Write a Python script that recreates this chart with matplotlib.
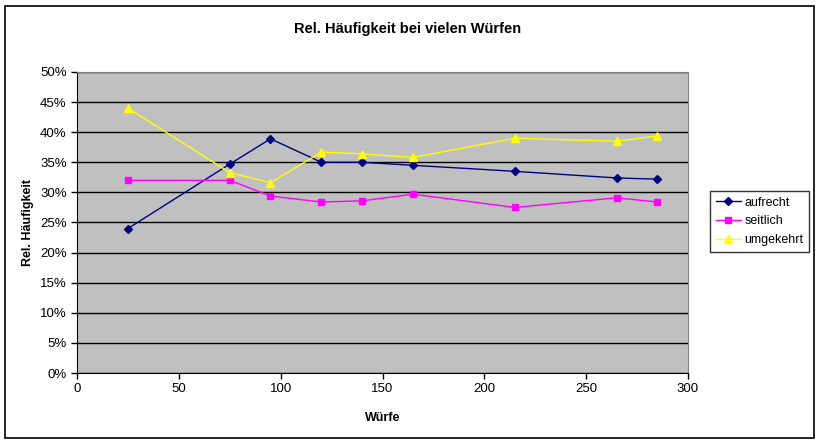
import matplotlib
matplotlib.use("Agg")
import matplotlib.pyplot as plt
from matplotlib.patches import Rectangle
from matplotlib.ticker import PercentFormatter

plt.rcParams['font.family'] = ['Liberation Sans', 'DejaVu Sans']

# throws and relative frequencies (%)
wuerfe = [25, 75, 95, 120, 140, 165, 215, 265, 285]
aufrecht = [24.0, 34.7, 38.9, 35.0, 35.0, 34.5, 33.5, 32.4, 32.2]
seitlich = [32.0, 32.0, 29.4, 28.4, 28.6, 29.7, 27.5, 29.1, 28.4]
umgekehrt = [44.0, 33.3, 31.6, 36.7, 36.4, 35.8, 39.0, 38.5, 39.4]

fig = plt.figure(figsize=(8.21, 4.44), dpi=100)
fig.patch.set_facecolor('white')
fig.patches.append(Rectangle((5 / 821, 6 / 444), 809 / 821, 432 / 444,
                             transform=fig.transFigure, fill=False,
                             edgecolor='black', linewidth=1.2))

ax = fig.add_axes([77 / 821, 71 / 444, 611 / 821, 301 / 444])
ax.set_facecolor('#C0C0C0')

ax.plot(wuerfe, aufrecht, color='#000080', marker='D', markersize=4,
        linewidth=1, label='aufrecht', zorder=3)
ax.plot(wuerfe, seitlich, color='#FF00FF', marker='s', markersize=5,
        linewidth=1, label='seitlich', zorder=3)
ax.plot(wuerfe, umgekehrt, color='#FFFF00', marker='^', markersize=6,
        linewidth=1, label='umgekehrt', zorder=3)

ax.set_xlim(0, 300)
ax.set_ylim(0, 50)
ax.set_xticks(range(0, 301, 50))
ax.set_yticks(range(0, 51, 5))
ax.yaxis.set_major_formatter(PercentFormatter(decimals=0))
ax.grid(axis='y', color='black', linewidth=1)
ax.set_axisbelow(True)
ax.tick_params(direction='out', length=4, width=1, labelsize=9.5, colors='black')

for s in ['top', 'right']:
    ax.spines[s].set_color('#808080')
for s in ['left', 'bottom']:
    ax.spines[s].set_color('black')

ax.set_xlabel('Würfe', fontsize=9, fontweight='bold', labelpad=12)
ax.set_ylabel('Rel. Häufigkeit', fontsize=9, fontweight='bold', labelpad=4)
fig.text(0.496, 0.935, 'Rel. Häufigkeit bei vielen Würfen', ha='center',
         va='center', fontsize=10.5, fontweight='bold')

leg = fig.legend(loc='upper right', bbox_to_anchor=(809 / 821, 1 - 191 / 444),
                 fontsize=9, frameon=True, fancybox=False, handlelength=2.0,
                 borderpad=0.45, labelspacing=0.55, handletextpad=0.3,
                 borderaxespad=0)
leg.get_frame().set_edgecolor('black')
leg.get_frame().set_linewidth(1)

fig.savefig('out.png', dpi=100)
